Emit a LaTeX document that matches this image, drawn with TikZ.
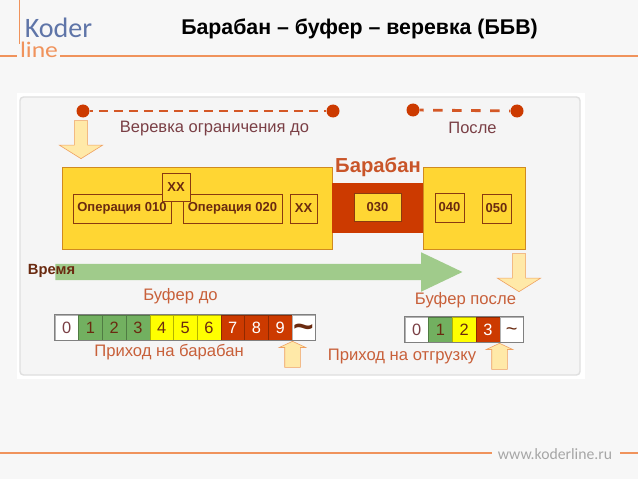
\documentclass[tikz,border=0pt]{standalone}
\usepackage{fontspec}
\setmainfont{Liberation Sans}
\newfontfamily\logofont{Carlito}
\usepackage{xcolor}
\usetikzlibrary{shapes.arrows, positioning}
\definecolor{pagebg}{HTML}{F7F7F7}
\definecolor{panelbg}{HTML}{F5F5F5}
\definecolor{rulecol}{HTML}{F0935C}
\definecolor{blockcol}{HTML}{FFD633}
\definecolor{blockedge}{HTML}{D08A20}
\definecolor{drumcol}{HTML}{CC3A00}
\definecolor{opedge}{HTML}{8A3A10}
\definecolor{optext}{HTML}{6A2A10}
\definecolor{labelcol}{HTML}{C8603A}
\definecolor{darklabel}{HTML}{7A3F45}
\definecolor{timecol}{HTML}{A0CB8B}
\definecolor{hintfill}{HTML}{FFE9A8}
\definecolor{hintedge}{HTML}{EFA060}
\definecolor{bufgreen}{HTML}{72B060}
\definecolor{bufyellow}{HTML}{FFFF00}
\definecolor{logoblue}{HTML}{5F75A8}
\tikzset{
  block/.style={rectangle, draw=blockedge, fill=blockcol, line width=0.5pt, inner sep=0pt},
  opbox/.style={rectangle, draw=opedge, fill=blockcol, line width=0.5pt, inner sep=0pt, text=optext, font=\fontsize{11.1}{13}\selectfont\bfseries},
  ropedot/.style={circle, fill=drumcol, minimum size=0.39cm, inner sep=0pt},
  rope/.style={draw=drumcol!85!white, line width=2.4pt},
  hintdown/.style={single arrow, draw=hintedge, fill=hintfill, line width=0.5pt, anchor=tip, shape border rotate=270, minimum height=1.14cm, single arrow head extend=0.45cm, single arrow tip angle=116, inner ysep=0pt, inner xsep=0.19cm},
  hintup/.style={single arrow, draw=hintedge, fill=hintfill, line width=0.5pt, anchor=tip, shape border rotate=90, minimum height=0.78cm, single arrow head extend=0.165cm, single arrow tip angle=130, inner ysep=0pt, inner xsep=0.225cm},
  bufcell/.style={rectangle, draw=#1!70!black, fill=#1, minimum width=0.71cm, minimum height=0.75cm, inner sep=0pt, font=\fontsize{14}{16}\selectfont},
  buflabel/.style={text=labelcol, font=\fontsize{14.2}{17}\selectfont},
}
\begin{document}
\begin{tikzpicture}[x=0.03cm, y=-0.03cm]
  \useasboundingbox[fill=pagebg] (0,0) rectangle (638,479);
  % header and footer
  \draw[rulecol, line width=1.2pt] (0,56) -- (17,56) (60,56) -- (638,56);
  \draw[rulecol, line width=1.2pt] (19.5,0) -- (19.5,44);
  \draw[rulecol, line width=1.2pt] (0,453) -- (492,453) (620,453) -- (638,453);
  \node[text=logoblue, inner sep=0pt, font=\logofont\fontsize{24}{26}\selectfont] (koder) at (58.5,28) {Koder};
  \node[text=rulecol, inner sep=0pt, xscale=1.15, font=\logofont\fontsize{19}{21}\selectfont] (line) at (39,49.5) {line};
  \node[text=gray!70, font=\logofont\fontsize{13.4}{16}\selectfont] (site) at (555,454) {www.koderline.ru};
  \node[font=\fontsize{18.2}{21}\selectfont\bfseries] (title) at (359.5,29) {Барабан – буфер – веревка (ББВ)};
  % panel
  \fill[white] (17,93) rectangle (585,379);
  \draw[fill=panelbg, draw=gray!25, line width=1.2pt, rounded corners=3pt] (20,97) rectangle (580,375);
  % ropes
  \node[ropedot] (before start) at (83,111) {};
  \node[ropedot] (before end) at (333,111) {};
  \node[ropedot] (after start) at (413,110) {};
  \node[ropedot] (after end) at (517,111) {};
  \draw[rope, dash pattern=on 7.7pt off 5.1pt, dash phase=5pt] (before start) -- (before end);
  \draw[rope, dash pattern=on 8pt off 8.2pt, dash phase=4.7pt] (after start) -- (after end);
  \node[text=darklabel, font=\fontsize{14.1}{17}\selectfont] (rope before) at (214.5,129) {Веревка ограничения до};
  \node[text=darklabel, font=\fontsize{14.1}{17}\selectfont] (rope after) at (472.5,128) {После};
  \node[hintdown] (release) at (81,159) {};
  % operations
  \node[block, minimum width=8.1cm, minimum height=2.46cm] (left block) at (197,208) {};
  \node[block, minimum width=3.06cm, minimum height=2.46cm] (right block) at (474,208) {};
  \node[rectangle, fill=drumcol, minimum width=2.73cm, minimum height=1.5cm, inner sep=0pt] (drum band) at (377.5,208) {};
  \node[text=labelcol!70!drumcol, font=\fontsize{17.3}{20}\selectfont\bfseries] (drum) at (378,167) {Барабан};
  \node[opbox, minimum width=2.94cm, minimum height=0.87cm] (op010) at (122,208.5) {Операция 010};
  \node[opbox, minimum width=2.97cm, minimum height=0.87cm] (op020) at (232.5,208.5) {Операция 020};
  \node[opbox, minimum width=0.81cm, minimum height=0.87cm] (xxa) at (303.5,208.5) {XX};
  \node[opbox, minimum width=0.84cm, minimum height=0.84cm] (xxb) at (176,187) {XX};
  \node[opbox, minimum width=1.41cm, minimum height=0.84cm] (op030) at (377.5,207) {030};
  \node[opbox, minimum width=0.87cm, minimum height=0.87cm] (op040) at (449.5,207.5) {040};
  \node[opbox, minimum width=0.87cm, minimum height=0.87cm] (op050) at (496.5,208.5) {050};
  % time
  \node[single arrow, fill=timecol, anchor=tip, minimum height=12.21cm, single arrow head extend=0.345cm, single arrow tip angle=51, inner xsep=0pt, inner ysep=0.24cm] (time arrow) at (463,272) {};
  \node[text=optext, font=\fontsize{12.6}{15}\selectfont\bfseries] (time) at (51.5,271) {Время};
  \node[hintdown] (shipping) at (519,292) {};
  % buffers
  \node[buflabel] (buffer before) at (180.5,296) {Буфер до};
  \node[buflabel] (buffer after) at (465.5,300) {Буфер после};
  \foreach \i/\lab/\col/\txt in {0/0/white/darklabel, 1/1/bufgreen/optext, 2/2/bufgreen/optext, 3/3/bufgreen/optext, 4/4/bufyellow/optext, 5/5/bufyellow/optext, 6/6/bufyellow/optext, 7/7/drumcol/white, 8/8/drumcol/white, 9/9/drumcol/white} {
    \node[bufcell=\col, text=\txt] (before\i) at ({66.8+\i*23.7},327.5) {\lab};
  }
  \node[bufcell=white, text=optext, font=\fontsize{30}{30}\selectfont\bfseries] (before tail) at (303.8,327.5) {\raisebox{-9.5pt}[0pt][0pt]{\textasciitilde}};
  \draw[gray, line width=0.8pt] (before0.north west) rectangle (before tail.south east);
  \foreach \i/\lab/\col/\txt in {0/0/white/darklabel, 1/1/bufgreen/optext, 2/2/bufyellow/optext, 3/3/drumcol/white} {
    \node[bufcell=\col, text=\txt] (after\i) at ({416.8+\i*23.7},329.5) {\lab};
  }
  \node[bufcell=white, text=optext, font=\fontsize{17}{17}\selectfont] (after tail) at (511.6,329.5) {\raisebox{-4.8pt}[0pt][0pt]{\textasciitilde}};
  \draw[gray, line width=0.8pt] (after0.north west) rectangle (after tail.south east);
  \node[buflabel] (arrival drum) at (169,352) {Приход на барабан};
  \node[buflabel] (arrival ship) at (402,357) {Приход на отгрузку};
  \node[hintup] (mark drum) at (292.5,341) {};
  \node[hintup] (mark ship) at (499.5,343) {};
\end{tikzpicture}
\end{document}
